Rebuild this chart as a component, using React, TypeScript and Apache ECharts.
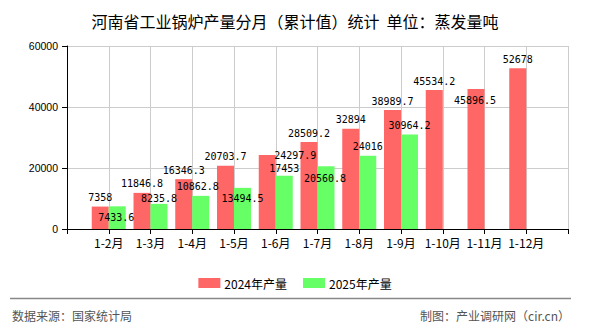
import React, { useEffect, useRef } from "react";
import * as echarts from "echarts";

const months = ["1-2月", "1-3月", "1-4月", "1-5月", "1-6月", "1-7月", "1-8月", "1-9月", "1-10月", "1-11月", "1-12月"];
const output2024 = [7358, 11846.8, 16346.3, 20703.7, 24297.9, 28509.2, 32894, 38989.7, 45534.2, 45896.5, 52678];
const output2025 = [7433.6, 8235.8, 10862.8, 13494.5, 17453, 20560.8, 24016, 30964.2];
const yTicks = [0, 20000, 40000, 60000];

// label shifts [dx, dy] relative to the default "top" label position
const shift2024: [number, number][] = [[0, 0], [0, 0], [0, 0], [0, 0], [28, 10], [0, 0], [0, 0], [0, 0], [0, 0], [-1, 20], [0, 0]];
const shift2025: [number, number][] = [[-1, 20], [0, 4], [-3, 0], [0, 20], [0, 2], [-1, 21], [0, 0], [0, 0]];

const labelFont = { fontFamily: "DejaVu Sans Mono", fontSize: 10, color: "#000" };

function buildData(values: number[], shifts: [number, number][]) {
  const out: any[] = [null];
  months.forEach((_, i) => {
    if (i < values.length) {
      out.push({
        value: values[i],
        label: { offset: shifts[i] },
      });
    } else {
      out.push(null);
    }
  });
  out.push(null);
  return out;
}

export default function App() {
  const ref = useRef<HTMLDivElement>(null);
  useEffect(() => {
    if (!ref.current) return;
    const chart = echarts.init(ref.current, undefined, { renderer: "svg" });
    const axisData = ["", ...months, ""];
    chart.setOption({
      animation: false,
      backgroundColor: "#fff",
      title: {
        text: "河南省工业锅炉产量分月（累计值）统计  单位：蒸发量吨",
        left: "center",
        top: 8,
        textStyle: { fontSize: 16, fontWeight: "normal", color: "#000", fontFamily: "Noto Sans CJK SC" },
      },
      legend: {
        top: 272,
        left: "center",
        itemWidth: 22,
        itemHeight: 10,
        itemGap: 16,
        icon: "rect",
        textStyle: { fontSize: 12, color: "#000", fontFamily: "Noto Sans CJK SC", padding: [0, 0, 0, -1] },
        data: ["2024年产量", "2025年产量"],
      },
      grid: { left: 67, right: 22, top: 46, bottom: 101, containLabel: false },
      xAxis: {
        type: "category",
        boundaryGap: false,
        data: axisData,
        axisLine: { show: true, lineStyle: { color: "#000", width: 1 } },
        axisTick: { show: true, interval: 0, length: 5, lineStyle: { color: "#000" } },
        axisLabel: { interval: 0, color: "#000", fontSize: 12, margin: 7, fontFamily: "Noto Sans CJK SC" },
        splitLine: { show: true, interval: 0, lineStyle: { color: "#ccc", width: 1 } },
      },
      yAxis: {
        type: "value",
        min: yTicks[0],
        max: yTicks[yTicks.length - 1],
        interval: yTicks[1] - yTicks[0],
        axisLine: { show: true, lineStyle: { color: "#000", width: 1 } },
        axisTick: { show: true, length: 5, lineStyle: { color: "#000" } },
        axisLabel: {
          color: "#000",
          fontSize: 10.5,
          margin: 9,
          fontFamily: "Liberation Sans",
          formatter: (v: number) => String(v),
        },
        splitLine: { show: true, lineStyle: { color: "#ccc", width: 1 } },
      },
      series: [
        {
          name: "2024年产量",
          type: "bar",
          barWidth: 17,
          barGap: "0%",
          itemStyle: { color: "#FF6666" },
          label: { show: true, position: "top", distance: 4, ...labelFont },
          data: buildData(output2024, shift2024),
        },
        {
          name: "2025年产量",
          type: "bar",
          barWidth: 17,
          barGap: "0%",
          itemStyle: { color: "#66FF66" },
          label: { show: true, position: "top", distance: 4, ...labelFont },
          data: buildData(output2025, shift2025),
        },
      ],
      graphic: [
        {
          type: "line",
          shape: { x1: 10, y1: 298.5, x2: 571, y2: 298.5 },
          style: { stroke: "#888", lineWidth: 1.5 },
        },
        {
          type: "text",
          left: 12,
          top: 309,
          style: { text: "数据来源：国家统计局", fontSize: 12, fill: "#555", fontFamily: "Noto Sans CJK SC" },
        },
        {
          type: "text",
          right: 20,
          top: 309,
          style: { text: "制图：产业调研网（cir.cn）", fontSize: 12, fill: "#555", fontFamily: "Noto Sans CJK SC" },
        },
      ],
    });
    return () => chart.dispose();
  }, []);
  return <div ref={ref} style={{ position: "absolute", left: 0, top: 0, width: 590, height: 330 }} />;
}
